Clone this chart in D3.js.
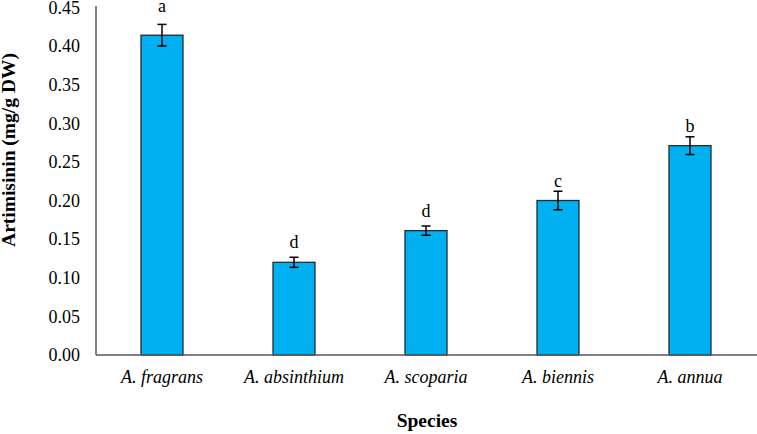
<!DOCTYPE html>
<html>
<head>
<meta charset="utf-8">
<script src="https://cdn.jsdelivr.net/npm/d3@7"></script>
<style>
  body { margin: 0; background: #fff; }
  text { font-family: "Liberation Serif", "Times New Roman", serif; fill: #000; }
</style>
</head>
<body>
<svg id="chart" width="757" height="434"></svg>
<script>
// data
var species = ['A. fragrans', 'A. absinthium', 'A. scoparia', 'A. biennis', 'A. annua'];
var means = [0.414, 0.120, 0.161, 0.200, 0.271];
var errs = [0.014, 0.0065, 0.006, 0.012, 0.0115];
var letters = ['a', 'd', 'd', 'c', 'b'];
var yTicks = [0, 0.05, 0.10, 0.15, 0.20, 0.25, 0.30, 0.35, 0.40, 0.45];

var svg = d3.select('#chart');
var plotLeft = 96, plotRight = 756, plotTop = 7.4, plotBottom = 355;

var x = d3.scaleBand()
  .domain(species)
  .range([plotLeft, plotRight])
  .paddingInner(0.682)
  .paddingOuter(0.341);

var y = d3.scaleLinear()
  .domain([0, 0.45])
  .range([plotBottom, plotTop]);

// y tick labels (no tick marks)
svg.append('g')
  .attr('transform', 'translate(' + plotLeft + ',0)')
  .call(d3.axisLeft(y).tickValues(yTicks).tickSize(0).tickPadding(16).tickFormat(d3.format('.2f')))
  .call(function(g) { g.select('.domain').remove(); })
  .selectAll('text')
  .style('font-size', '18px')
  .style('font-family', '"Liberation Serif", serif');

// bars
svg.selectAll('rect.bar')
  .data(means)
  .enter()
  .append('rect')
  .attr('class', 'bar')
  .attr('x', function(d, i) { return x(species[i]); })
  .attr('y', function(d) { return y(d); })
  .attr('width', x.bandwidth())
  .attr('height', function(d) { return y(0) - y(d); })
  .attr('fill', '#00B0F0')
  .attr('stroke', '#1c2b36')
  .attr('stroke-width', 1.3);

// error bars
var eb = svg.append('g').attr('stroke', '#000').attr('stroke-width', 1.5);
for (var i = 0; i < means.length; i++) {
  var cx = x(species[i]) + x.bandwidth() / 2;
  var hi = y(means[i] + errs[i]);
  var lo = y(means[i] - errs[i]);
  eb.append('line').attr('x1', cx).attr('x2', cx).attr('y1', hi).attr('y2', lo);
  eb.append('line').attr('x1', cx - 4.5).attr('x2', cx + 4.5).attr('y1', hi).attr('y2', hi);
  eb.append('line').attr('x1', cx - 4.5).attr('x2', cx + 4.5).attr('y1', lo).attr('y2', lo);
}

// significance letters
svg.selectAll('text.letter')
  .data(letters)
  .enter()
  .append('text')
  .attr('class', 'letter')
  .attr('x', function(d, i) { return x(species[i]) + x.bandwidth() / 2; })
  .attr('y', function(d, i) {
    var ly = y(means[i]) - 14;
    var errTop = y(means[i] + errs[i]);
    if (errTop - 4 < ly) ly = errTop - 12;
    return ly;
  })
  .attr('text-anchor', 'middle')
  .style('font-size', '18px')
  .text(function(d) { return d; });

// axis lines
svg.append('line')
  .attr('x1', plotLeft).attr('x2', 757)
  .attr('y1', plotBottom).attr('y2', plotBottom)
  .attr('stroke', '#595959').attr('stroke-width', 1.5);
svg.append('line')
  .attr('x1', plotLeft).attr('x2', plotLeft)
  .attr('y1', 6).attr('y2', plotBottom)
  .attr('stroke', '#595959').attr('stroke-width', 1.5);

// category labels
svg.selectAll('text.cat')
  .data(species)
  .enter()
  .append('text')
  .attr('class', 'cat')
  .attr('x', function(d) { return x(d) + x.bandwidth() / 2; })
  .attr('y', 383)
  .attr('text-anchor', 'middle')
  .style('font-size', '18px')
  .style('font-style', 'italic')
  .text(function(d) { return d; });

// axis titles
svg.append('text')
  .attr('x', 427)
  .attr('y', 427)
  .attr('text-anchor', 'middle')
  .style('font-size', '19.5px')
  .style('font-weight', 'bold')
  .text('Species');

svg.append('text')
  .attr('transform', 'translate(15,150) rotate(-90)')
  .attr('text-anchor', 'middle')
  .style('font-size', '19.5px')
  .style('font-weight', 'bold')
  .text('Artimisinin (mg/g DW)');
</script>
</body>
</html>
